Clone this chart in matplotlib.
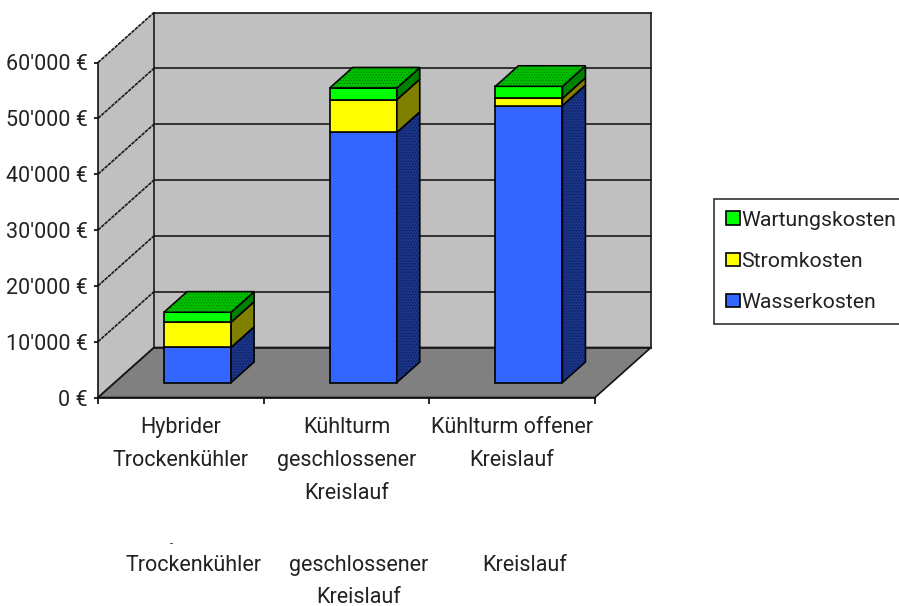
import numpy as np
import matplotlib
matplotlib.use('Agg')
import matplotlib.pyplot as plt
from matplotlib.patches import Patch

categories = ['Hybrider\nTrockenkühler', 'Kühlturm\ngeschlossener\nKreislauf', 'Kühlturm offener\nKreislauf']
lower_labels = ['Trockenkühler', 'geschlossener\nKreislauf', 'Kreislauf']
wasser = [6300, 44800, 49600]
strom = [4500, 5850, 1300]
wartung = [1800, 2100, 2150]
series_names = ['Wasserkosten', 'Stromkosten', 'Wartungskosten']
y_ticks = [0, 10000, 20000, 30000, 40000, 50000, 60000]
y_labels = ["0 €", "10'000 €", "20'000 €", "30'000 €", "40'000 €", "50'000 €", "60'000 €"]

front_colors = ['#3366ff', '#ffff00', '#00ff00']
side_colors = ['#1a3488', '#808000', '#008000']
top_color = '#00c000'

plt.rcParams['font.family'] = ['Roboto', 'Liberation Sans', 'DejaVu Sans']
plt.rcParams['hatch.linewidth'] = 0.5
FS = 15.5
TXT = '#222222'

W, H = 899, 606
fig = plt.figure(figsize=(W/100, H/100), dpi=100)
ax = fig.add_axes([98/W, (H-397.5)/H, 497/W, 335/H])
ax.set_xlim(0, 3)
ax.set_ylim(0, 60000)
ax.patch.set_alpha(0)

# oblique depth of the chart box, in data units
dx = 56/(497/3)
dy = 50/(335/60000)
lw = 1.2

# walls and floor
ax.fill([0, dx, dx, 0], [0, dy, 60000+dy, 60000], color='#c0c0c0', lw=0, clip_on=False, zorder=0)
ax.fill([dx, 3+dx, 3+dx, dx], [dy, dy, 60000+dy, 60000+dy], color='#c0c0c0', lw=0, clip_on=False, zorder=0)
ax.fill([0, 3, 3+dx, dx], [0, 0, dy, dy], facecolor='#808080', edgecolor='#111111', lw=lw, clip_on=False, zorder=1)

# gridlines, dotted round the left wall and solid along the back wall
for v in y_ticks:
    ax.plot([0, dx], [v, v+dy], color='#1a1a1a', lw=lw, ls=(0, (2.2, 0.5)), clip_on=False, zorder=1)
    ax.plot([dx, 3+dx], [v+dy, v+dy], color='#1a1a1a', lw=lw, clip_on=False, zorder=1)
ax.plot([dx, dx], [dy, 60000+dy], color='#1a1a1a', lw=lw, clip_on=False, zorder=1)
ax.plot([3+dx, 3+dx], [dy, 60000+dy], color='#1a1a1a', lw=lw, clip_on=False, zorder=1)

# bars
x = np.arange(3)+0.5+0.3*dx
bw = 67/(497/3)
bar_dx = 0.41*dx
bar_dy = 0.41*dy
base = 0.3*dy
bottoms = np.zeros(3)+base
for k, (vals, fc, sc) in enumerate(zip([wasser, strom, wartung], front_colors, side_colors)):
    vals = np.array(vals)
    ax.bar(x, vals, bw, bottom=bottoms, color=fc, edgecolor='black', lw=lw, zorder=3, clip_on=False)
    for xi, b, v in zip(x, bottoms, vals):
        r = xi+bw/2
        sx = [r, r+bar_dx, r+bar_dx, r]
        sy = [b, b+bar_dy, b+v+bar_dy, b+v]
        ax.fill(sx, sy, facecolor=sc, edgecolor='black', lw=lw, zorder=3, clip_on=False)
        if k == 0:
            # dithered shading of the dark blue side
            ax.fill(sx, sy, facecolor='none', edgecolor='#0a1a50', hatch='......', lw=0, zorder=3, clip_on=False)
    bottoms = bottoms+vals
for xi, t in zip(x, bottoms):
    l = xi-bw/2
    r = xi+bw/2
    tx = [l, r, r+bar_dx, l+bar_dx]
    ty = [t, t, t+bar_dy, t+bar_dy]
    ax.fill(tx, ty, facecolor=top_color, edgecolor='black', lw=lw, zorder=3, clip_on=False)
    ax.fill(tx, ty, facecolor='none', edgecolor='#008000', hatch='......', lw=0, zorder=3, clip_on=False)

# axes
for s in ['top', 'right']:
    ax.spines[s].set_visible(False)
for s in ['left', 'bottom']:
    ax.spines[s].set_linewidth(lw)
    ax.spines[s].set_color('#111111')
    ax.spines[s].set_zorder(2)
ax.set_yticks(y_ticks)
ax.set_yticklabels(y_labels, fontsize=FS, color=TXT)
ax.tick_params(axis='y', length=3, width=lw, pad=4.5)
ax.set_xticks([0, 1, 2, 3])
ax.set_xticklabels([])
ax.tick_params(axis='x', length=4, width=lw)

# category labels, first row and the repeated row under it
for i, label in enumerate(categories):
    ax.annotate(label, (i+0.5, 0), xytext=(0, -14.2), textcoords='offset points', ha='center', va='top',
                fontsize=FS, color=TXT, linespacing=1.75, annotation_clip=False)
for i, label in enumerate(lower_labels):
    ax.annotate(label, (i+0.5, 0), xytext=(9, -113.5), textcoords='offset points', ha='center', va='top',
                fontsize=FS, color=TXT, linespacing=1.7, annotation_clip=False)
fig.text(171/W, (H-544)/H, '-', fontsize=8, ha='center', va='center', color=TXT)

# legend
handles = [Patch(facecolor=c, edgecolor='black', lw=lw) for c in front_colors[::-1]]
leg = ax.legend(handles, series_names[::-1], loc='upper left', bbox_to_anchor=(714/W, 1-198.5/H),
                bbox_transform=fig.transFigure, borderaxespad=0, fancybox=False, framealpha=1,
                edgecolor='#333333', fontsize=15.3, handlelength=0.62, handleheight=0.62,
                handletextpad=0.1, borderpad=0.58, labelspacing=1.04, labelcolor=TXT)
leg.get_frame().set_linewidth(lw)

plt.savefig('out.png', dpi=100)
